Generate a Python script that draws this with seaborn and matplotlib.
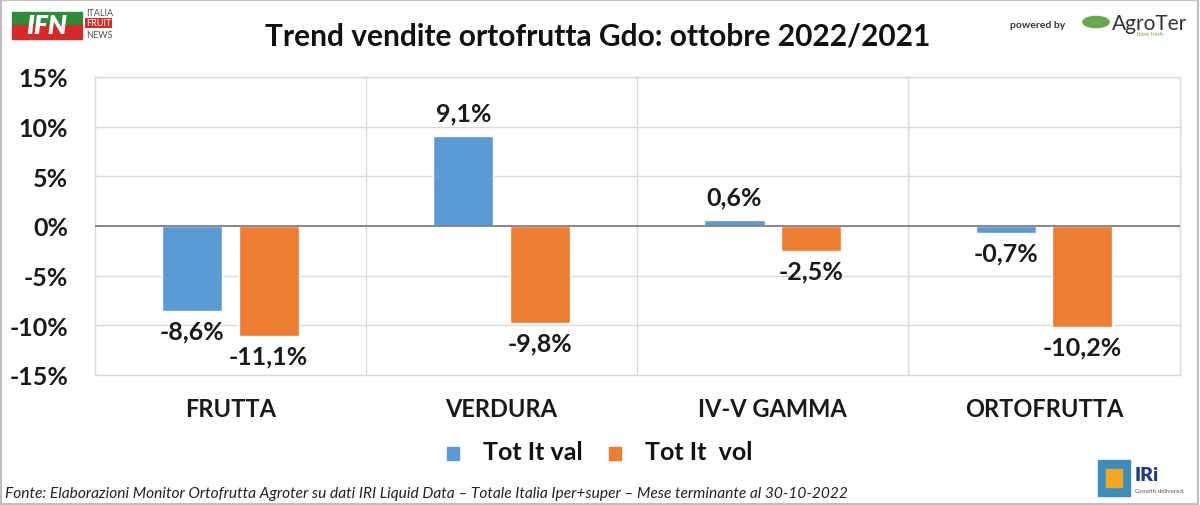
import matplotlib
matplotlib.use("Agg")
import matplotlib.pyplot as plt
import seaborn as sns
import pandas as pd
from matplotlib.patches import Rectangle, FancyBboxPatch

categories = ["FRUTTA", "VERDURA", "IV-V GAMMA", "ORTOFRUTTA"]
series_names = ["Tot It val", "Tot It  vol"]
val_values = [-8.6, 9.1, 0.6, -0.7]
vol_values = [-11.1, -9.8, -2.5, -10.2]
y_ticks = [-15, -10, -5, 0, 5, 10, 15]
colors = ["#5B9BD5", "#ED7D31"]

df = pd.DataFrame({
    "cat": categories * 2,
    "serie": [series_names[0]] * 4 + [series_names[1]] * 4,
    "v": val_values + vol_values,
})

sns.set_theme(style="white")
plt.rcParams['font.family'] = ['Lato', 'DejaVu Sans']

fig = plt.figure(figsize=(12, 5.06), dpi=100)
ax = fig.add_axes([0.079, 0.257, 0.904, 0.589])

sns.barplot(data=df, x="cat", y="v", hue="serie", palette=colors, width=0.565,
            gap=0.215, dodge=True, ax=ax, legend=False, saturation=1)

ax.set_ylim(-15, 15)
ax.set_xlim(-0.5, 3.5)
ax.set_yticks(y_ticks)
ax.set_yticklabels([f"{t}%" for t in y_ticks], fontsize=18, fontweight="bold", color="#1a1a1a")
ax.set_xticks(range(4))
ax.set_xticklabels(categories, fontsize=17, fontweight="bold", color="#1a1a1a")
ax.tick_params(axis="y", pad=19, length=0)
ax.tick_params(axis="x", pad=16, length=0)
ax.set_xlabel("")
ax.set_ylabel("")
for t in y_ticks:
    if t != 0:
        ax.axhline(t, color="#d9d9d9", lw=1, zorder=0)
for xs in [0.5, 1.5, 2.5]:
    ax.axvline(xs, color="#d9d9d9", lw=1, zorder=0)
ax.axhline(0, color="#7f7f7f", lw=1.3, zorder=3)
for s in ax.spines.values():
    s.set_color("#d9d9d9")
    s.set_linewidth(1)

# value labels
for cont in ax.containers:
    for bar in cont:
        h = bar.get_height()
        xc = bar.get_x() + bar.get_width() / 2
        lab = f"{h:.1f}%".replace(".", ",")
        if h >= 0:
            ax.annotate(lab, (xc, h), xytext=(0, 8), textcoords="offset points",
                        ha="center", va="bottom", fontsize=18, fontweight="bold", color="#1a1a1a")
        else:
            ax.annotate(lab, (xc, h), xytext=(0, -6), textcoords="offset points",
                        ha="center", va="top", fontsize=18, fontweight="bold", color="#1a1a1a")

# title
fig.text(0.498, 0.927, "Trend vendite ortofrutta Gdo: ottobre 2022/2021", ha="center", va="center",
         fontsize=21.5, fontweight="bold", color="#111111")

# legend
for i, (name, col) in enumerate(zip(series_names, colors)):
    x0 = 447 + i * 162
    fig.patches.append(Rectangle((x0 / 1200, 1 - 461 / 506), 12 / 1200, 13 / 506,
                                 transform=fig.transFigure, color=col))
    fig.text((x0 + 36) / 1200, 1 - 453 / 506, name, ha="left", va="center",
             fontsize=18, fontweight="bold", color="#111111")

# footer
fig.text(5 / 1200, 1 - 494 / 506,
         "Fonte: Elaborazioni Monitor Ortofrutta Agroter su dati IRI Liquid Data – Totale Italia Iper+super – Mese terminante al 30-10-2022",
         ha="left", va="center", fontsize=11.2, style="italic", color="#222222")

# IFN logo approximation
fig.patches.append(FancyBboxPatch((12 / 1200, 1 - 26 / 506), 70 / 1200, 13 / 506,
                                  boxstyle="square,pad=0", transform=fig.transFigure, color="#2e8b3a"))
fig.patches.append(FancyBboxPatch((12 / 1200, 1 - 40 / 506), 70 / 1200, 14 / 506,
                                  boxstyle="square,pad=0", transform=fig.transFigure, color="#d42a2a"))
fig.text(47 / 1200, 1 - 26 / 506, "IFN", ha="center", va="center", fontsize=19,
         fontweight="heavy", color="white", style="italic")
fig.text(86 / 1200, 1 - 13 / 506, "ITALIA", ha="left", va="center", fontsize=6.5, color="#555555")
fig.text(86 / 1200, 1 - 24 / 506, "FRUIT", ha="left", va="center", fontsize=6.5, color="white",
         bbox=dict(boxstyle="square,pad=0.1", fc="#d42a2a", ec="none"))
fig.text(86 / 1200, 1 - 35 / 506, "NEWS", ha="left", va="center", fontsize=6.5, color="#555555")

# AgroTer logo approximation
fig.text(1038 / 1200, 1 - 26 / 506, "powered by", ha="center", va="center", fontsize=7.5,
         fontweight="bold", color="#333333")
fig.patches.append(plt.Circle((1096 / 1200, 1 - 23 / 506), 0.011, transform=fig.transFigure,
                              color="#6aa84f"))
fig.text(1112 / 1200, 1 - 24 / 506, "AgroTer", ha="left", va="center", fontsize=15, color="#333333")
fig.text(1150 / 1200, 1 - 35 / 506, "think fresh", ha="center", va="center", fontsize=4, color="#6aa84f")

# IRi logo approximation
fig.patches.append(Rectangle((1098 / 1200, 1 - 497 / 506), 32 / 1200, 36 / 506,
                             transform=fig.transFigure, color="#3c8dbc"))
fig.patches.append(Rectangle((1106 / 1200, 1 - 488 / 506), 16 / 1200, 18 / 506,
                             transform=fig.transFigure, color="#f5a623"))
fig.text(1135 / 1200, 1 - 476 / 506, "IRi", ha="left", va="center", fontsize=14,
         fontweight="heavy", color="#1f3d7a")
fig.text(1135 / 1200, 1 - 492 / 506, "Growth delivered.", ha="left", va="center", fontsize=4.5, color="#555555")

# frame
fig.patches.append(Rectangle((0.001, 0.002), 0.997, 0.996, transform=fig.transFigure,
                             fill=False, ec="#bfbfbf", lw=1.5))

fig.savefig("out.png", dpi=100)
